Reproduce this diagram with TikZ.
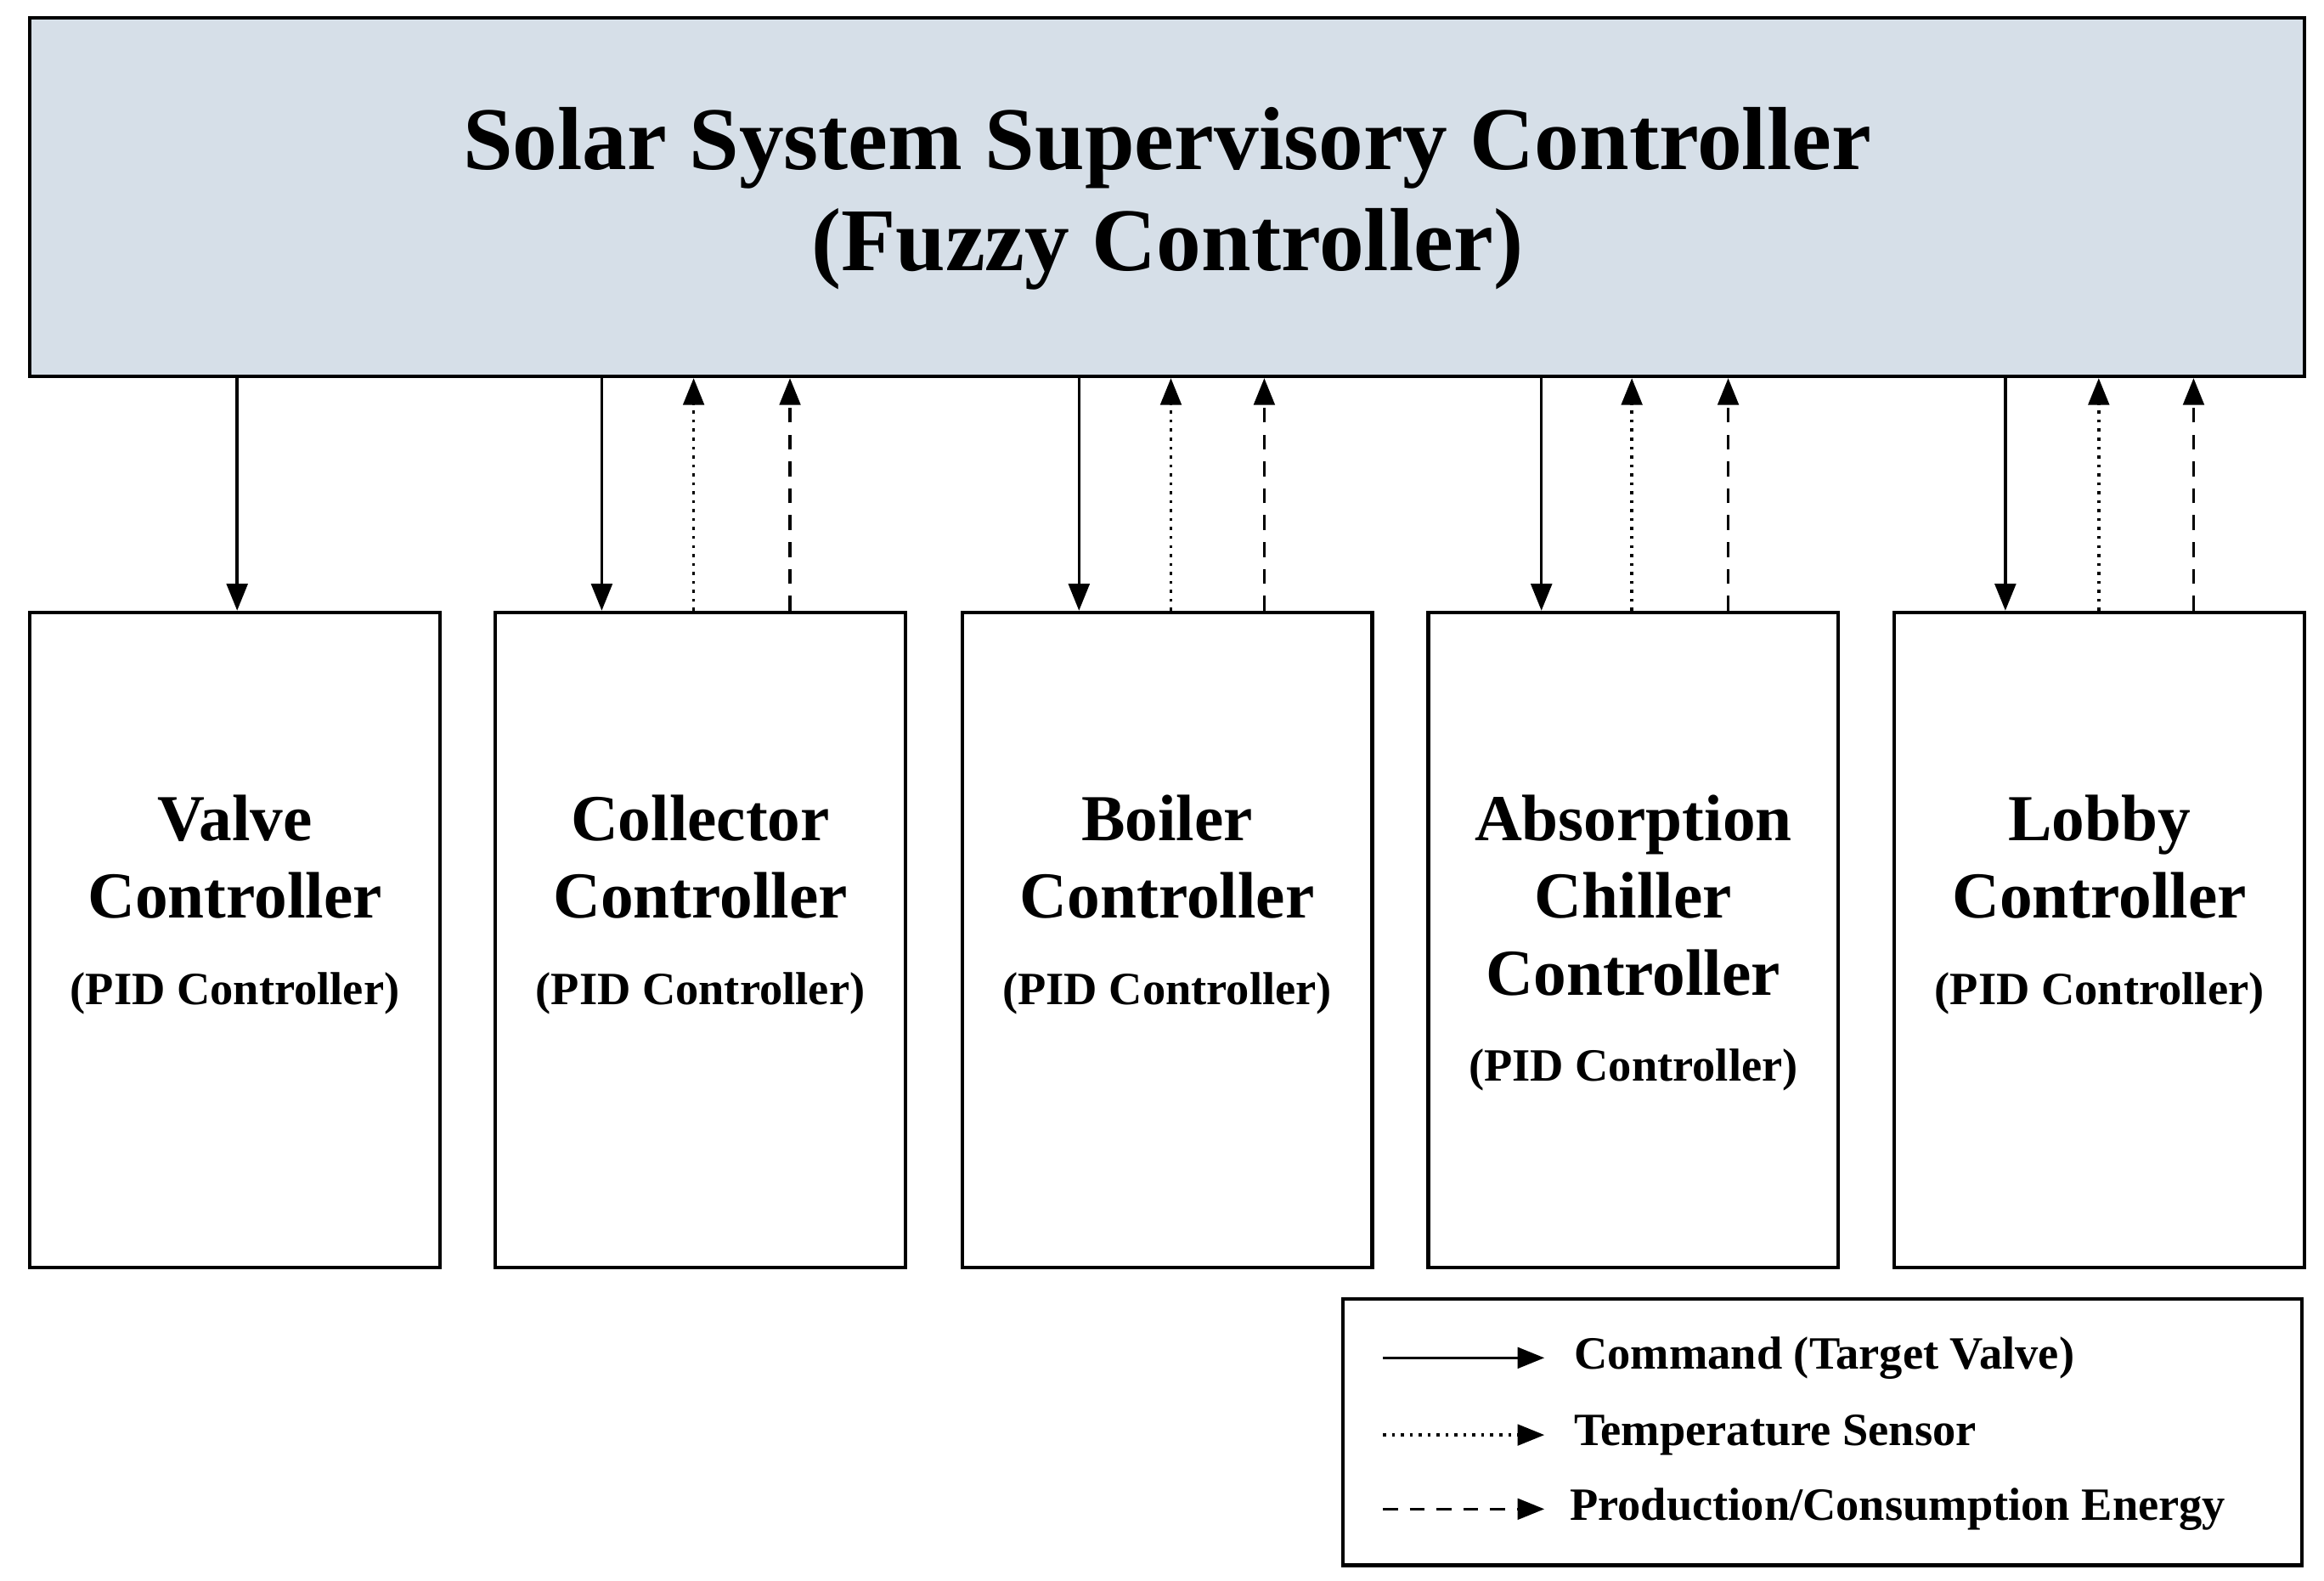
\documentclass[tikz,border=0pt]{standalone}
\usepackage{fontspec}
\setmainfont{Liberation Serif}
\usetikzlibrary{arrows.meta}
\begin{document}
\begin{tikzpicture}[x=0.01745cm,y=-0.01745cm,
  box/.style={draw,line width=1.2pt,minimum width=4.83cm,minimum height=7.71cm,inner sep=0},
  lbl/.style={font=\fontsize{22}{25.8}\selectfont\bfseries,align=center},
  pid/.style={font=\fontsize{15.5}{18}\selectfont\bfseries},
  tip/.style={-{Triangle[length=9pt,width=7pt]}},
  cmd/.style={tip,line width=1pt},
  tmp/.style={tip,line width=1pt,dotted},
  nrg/.style={tip,line width=1pt,dash pattern=on 5pt off 4pt},
  leg/.style={font=\fontsize{15.5}{18}\selectfont\bfseries,anchor=west}]
\useasboundingbox (0,0) rectangle (1568,1066);
\node[draw,line width=1.2pt,fill={rgb,255:red,214;green,223;blue,232},minimum width=26.79cm,minimum height=4.22cm,inner sep=0] (top) at (787.5,133) {};
\node[font=\fontsize{30}{33.7}\selectfont\bfseries,align=center] (title) at (787.5,134) {Solar System Supervisory Controller\\(Fuzzy Controller)};
\node[box] (valve) at (158.5,634) {};
\node[box] (coll) at (472.5,634) {};
\node[box] (boil) at (787.5,634) {};
\node[box] (abs) at (1102,634) {};
\node[box] (lobby) at (1416.5,634) {};
\node[lbl] (t1) at (158.5,578) {Valve\\Controller};
\node[pid] (p1) at (158.5,670) {(PID Controller)};
\node[lbl] (t2) at (472.5,578) {Collector\\Controller};
\node[pid] (p2) at (472.5,670) {(PID Controller)};
\node[lbl] (t3) at (787.5,578) {Boiler\\Controller};
\node[pid] (p3) at (787.5,670) {(PID Controller)};
\node[lbl] (t4) at (1102,604) {Absorption\\Chiller\\Controller};
\node[pid] (p4) at (1102,722) {(PID Controller)};
\node[lbl] (t5) at (1416.5,578) {Lobby\\Controller};
\node[pid] (p5) at (1416.5,670) {(PID Controller)};
% arrow x positions
\foreach \n/\x in {a1/160,a2/406,a3/728,a4/1040,a5/1353,d2/468,d3/790,d4/1101,d5/1416,e2/533,e3/853,e4/1166,e5/1480}
  \coordinate (\n) at (\x,300);
\draw[cmd] (top.south -| a1) -- (valve.north -| a1);
\draw[cmd] (top.south -| a2) -- (coll.north -| a2);
\draw[cmd] (top.south -| a3) -- (boil.north -| a3);
\draw[cmd] (top.south -| a4) -- (abs.north -| a4);
\draw[cmd] (top.south -| a5) -- (lobby.north -| a5);
\draw[tmp] (coll.north -| d2) -- (top.south -| d2);
\draw[tmp] (boil.north -| d3) -- (top.south -| d3);
\draw[tmp] (abs.north -| d4) -- (top.south -| d4);
\draw[tmp] (lobby.north -| d5) -- (top.south -| d5);
\draw[nrg] (coll.north -| e2) -- (top.south -| e2);
\draw[nrg] (boil.north -| e3) -- (top.south -| e3);
\draw[nrg] (abs.north -| e4) -- (top.south -| e4);
\draw[nrg] (lobby.north -| e5) -- (top.south -| e5);
% legend
\node[draw,line width=1.2pt,minimum width=11.29cm,minimum height=3.14cm,inner sep=0] (legend) at (1229.5,966) {};
\coordinate (l1s) at (933,916); \coordinate (l1e) at (1042,916);
\coordinate (l2s) at (933,968); \coordinate (l2e) at (1042,968);
\coordinate (l3s) at (933,1018); \coordinate (l3e) at (1042,1018);
\draw[cmd] (l1s) -- (l1e);
\draw[tmp] (l2s) -- (l2e);
\draw[nrg] (l3s) -- (l3e);
\node[leg] (g1) at (1055,916) {Command (Target Valve)};
\node[leg] (g2) at (1055,968) {Temperature Sensor};
\node[leg] (g3) at (1052,1018) {Production/Consumption Energy};
\end{tikzpicture}
\end{document}
